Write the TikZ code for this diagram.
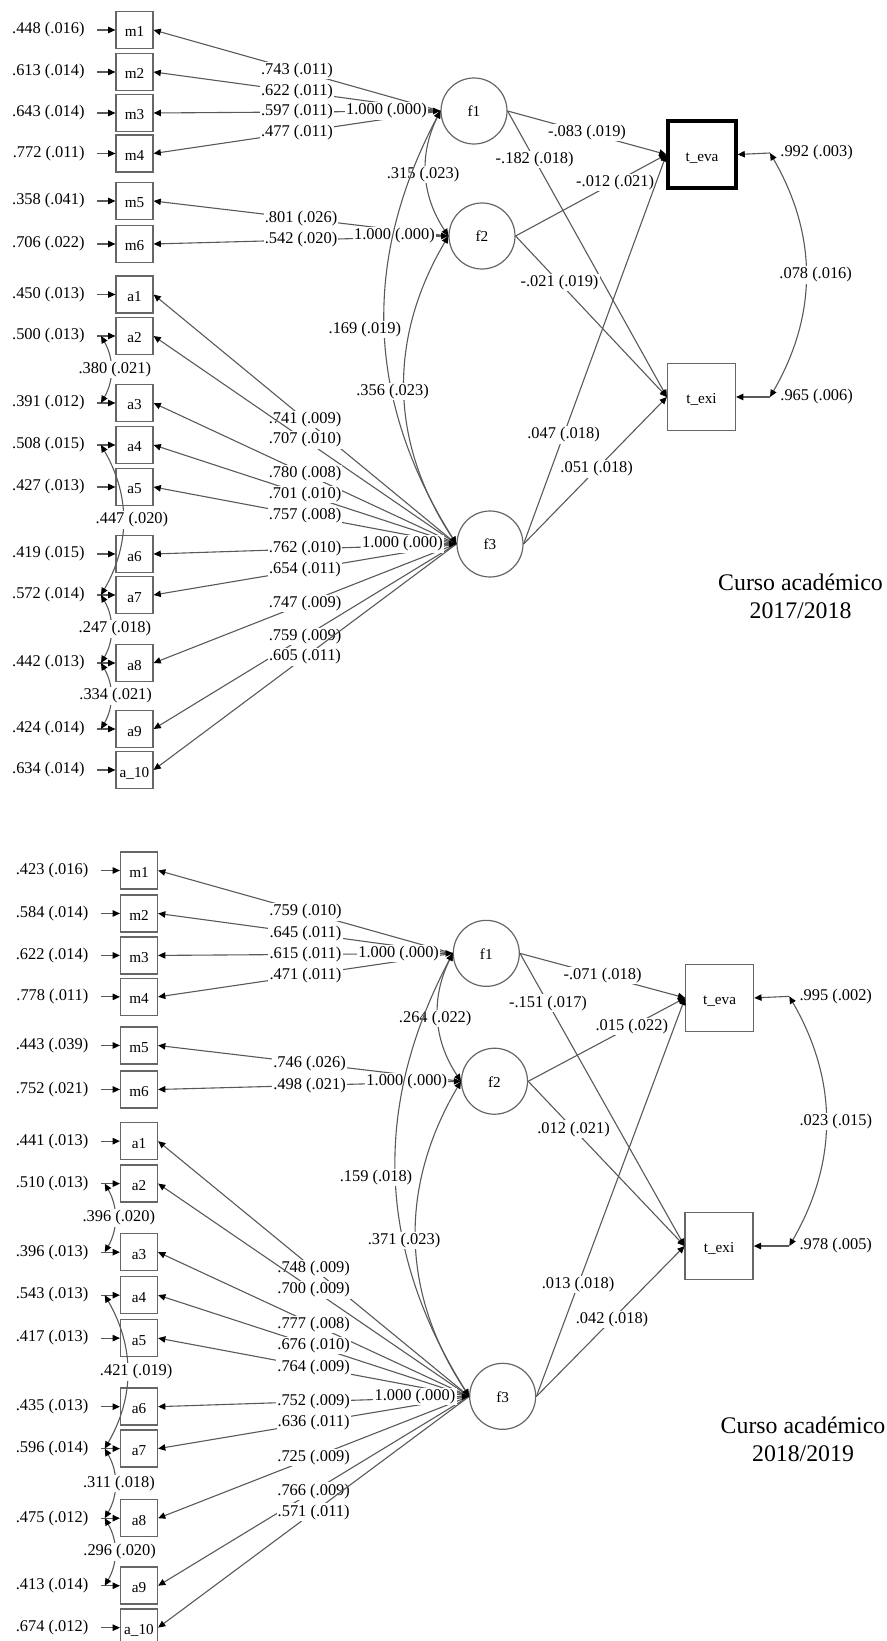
\documentclass[tikz,border=0pt]{standalone}
\usepackage{fontspec}
\setmainfont{Liberation Serif}
\usetikzlibrary{arrows.meta}
\newcommand\fslab{\fontsize{8.2}{9.5}\selectfont}
\newcommand\fsobs{\fontsize{7.6}{8.5}\selectfont}
\newcommand\fstitle{\fontsize{11.9}{14}\selectfont}
\tikzset{
  obs/.style={draw=black!60, line width=0.6pt, minimum size=18.5pt, inner sep=0pt, font=\fsobs, text height=7pt, text depth=0pt},
  lat/.style={circle, draw=black!60, line width=0.6pt, minimum size=33pt, inner sep=0pt, font=\fsobs, text height=6pt, text depth=0pt},
  tbox/.style={draw=black!60, line width=0.6pt, minimum width=34pt, minimum height=33.5pt, inner sep=0pt, font=\fsobs, text height=7pt, text depth=0pt},
  tevaextra/.style={},
  lab/.style={font=\fslab, fill=white, inner sep=0.6pt},
  errlab/.style={font=\fslab, anchor=east, inner xsep=6pt, inner ysep=0.6pt},
  varlab/.style={font=\fslab, anchor=west, inner xsep=5pt, inner ysep=0.6pt},
  semtip/.tip={Triangle[length=3.6pt,width=3.2pt,color=black]},
  arr/.style={draw=black!65, line width=0.55pt, -semtip},
  arr2/.style={draw=black!65, line width=0.55pt, semtip-semtip},
  titlelab/.style={font=\fstitle, align=center, inner sep=0pt}
}
% #1 indicators, #2 residual covariances, #3-#5 factor correlations,
% #6 structural paths, #7-#8 outcome variances, #9 outcome covariance
\newcommand\semdiagram[9]{%
  \node[lat] (f1) at (474,111) {f1};
  \node[lat] (f2) at (482,236) {f2};
  \node[lat] (f3) at (490,544) {f3};
  \node[tbox, tevaextra] (teva) at (702,154.5) {t\_eva};
  \node[tbox] (texi) at (701.5,397) {t\_exi};
  \foreach \vn/\vt/\vy/\ve/\vl/\vf in {#1}{
    \node[obs] (\vn) at (134.5,\vy) {\vt};
    \node[errlab] (e\vn) at (97,\vy) {\ve};
    \draw[arr] (e\vn.east) -- (\vn.west);
    \draw[arr] (\vf.west) -- node[lab,pos=.5] {\vl} (\vn.east);
  }
  \foreach \va/\vb/\vl/\vd in {#2}{
    \draw[arr2] ([xshift=2pt]e\va.east) to[bend left=30]
      node[lab,midway,xshift=\vd] {\vl} ([xshift=2pt]e\vb.east);
  }
  \foreach \vf in {f1,f2,f3}{
    \node[lab, anchor=east] (v\vf) at ([xshift=-6pt]\vf.west) {1.000 (.000)};
    \draw[arr] (v\vf.east) -- (\vf.west);
  }
  \draw[arr2] (f1.west) to[bend right=30] node[lab,midway,xshift=-1.5pt] {#3} (f2.west);
  \draw[arr2] (f1.west) to[bend right=30] node[lab,midway,xshift=-10pt] {#4} (f3.west);
  \draw[arr2] (f2.west) to[bend right=32] node[lab,midway,xshift=-6pt] {#5} (f3.west);
  \foreach \va/\vb/\vp/\vl in {#6}{
    \draw[arr] (\va.east) -- node[lab,pos=\vp] {\vl} (\vb.west);
  }
  \node[varlab] (vteva) at (770,153) {#7};
  \node[varlab] (vtexi) at (770,397) {#8};
  \draw[arr] (vteva.west) -- (teva.east);
  \draw[arr] (vtexi.west) -- (texi.east);
  \draw[arr2] (vteva.west) to[bend left=30] node[lab,midway,xshift=5pt] {#9} (vtexi.west);
}
\begin{document}
\begin{tikzpicture}[x=0.5pt, y=-0.5pt]
\useasboundingbox (0,0) rectangle (887,1641);
\begin{scope}[name prefix=top-, tevaextra/.style={draw=black, line width=1.6pt}]
\semdiagram{
  m1/m1/30/.448 (.016)/.743 (.011)/f1,
  m2/m2/72/.613 (.014)/.622 (.011)/f1,
  m3/m3/113/.643 (.014)/.597 (.011)/f1,
  m4/m4/153.5/.772 (.011)/.477 (.011)/f1,
  m5/m5/201/.358 (.041)/.801 (.026)/f2,
  m6/m6/244/.706 (.022)/.542 (.020)/f2,
  a1/a1/294.5/.450 (.013)/.741 (.009)/f3,
  a2/a2/336/.500 (.013)/.707 (.010)/f3,
  a3/a3/403/.391 (.012)/.780 (.008)/f3,
  a4/a4/445/.508 (.015)/.701 (.010)/f3,
  a5/a5/487/.427 (.013)/.757 (.008)/f3,
  a6/a6/554/.419 (.015)/.762 (.010)/f3,
  a7/a7/595/.572 (.014)/.654 (.011)/f3,
  a8/a8/663/.442 (.013)/.747 (.009)/f3,
  a9/a9/729/.424 (.014)/.759 (.009)/f3,
  a10/a\_10/770/.634 (.014)/.605 (.011)/f3}
{a2/a3/.380 (.021)/2pt, a4/a7/.447 (.020)/4.5pt, a7/a8/.247 (.018)/2pt, a8/a9/.334 (.021)/2.5pt}
{.315 (.023)}{.169 (.019)}{.356 (.023)}
{f1/teva/.5/-.083 (.019), f1/texi/.17/-.182 (.018), f2/teva/.66/-.012 (.021),
 f2/texi/.29/-.021 (.019), f3/teva/.28/.047 (.018), f3/texi/.51/.051 (.018)}
{.992 (.003)}{.965 (.006)}{.078 (.016)}
\end{scope}
\node[titlelab] (title1) at (800.5,596) {Curso académico\\2017/2018};
\begin{scope}[name prefix=bot-, shift={(1.4,839.8)}, scale=1.023]
\semdiagram{
  m1/m1/30/.423 (.016)/.759 (.010)/f1,
  m2/m2/72/.584 (.014)/.645 (.011)/f1,
  m3/m3/113/.622 (.014)/.615 (.011)/f1,
  m4/m4/153.5/.778 (.011)/.471 (.011)/f1,
  m5/m5/201/.443 (.039)/.746 (.026)/f2,
  m6/m6/244/.752 (.021)/.498 (.021)/f2,
  a1/a1/294.5/.441 (.013)/.748 (.009)/f3,
  a2/a2/336/.510 (.013)/.700 (.009)/f3,
  a3/a3/403/.396 (.013)/.777 (.008)/f3,
  a4/a4/445/.543 (.013)/.676 (.010)/f3,
  a5/a5/487/.417 (.013)/.764 (.009)/f3,
  a6/a6/554/.435 (.013)/.752 (.009)/f3,
  a7/a7/595/.596 (.014)/.636 (.011)/f3,
  a8/a8/663/.475 (.012)/.725 (.009)/f3,
  a9/a9/729/.413 (.014)/.766 (.009)/f3,
  a10/a\_10/770/.674 (.012)/.571 (.011)/f3}
{a2/a3/.396 (.020)/2pt, a4/a7/.421 (.019)/4.5pt, a7/a8/.311 (.018)/2pt, a8/a9/.296 (.020)/2.5pt}
{.264 (.022)}{.159 (.018)}{.371 (.023)}
{f1/teva/.5/-.071 (.018), f1/texi/.17/-.151 (.017), f2/teva/.66/.015 (.022),
 f2/texi/.29/.012 (.021), f3/teva/.28/.013 (.018), f3/texi/.51/.042 (.018)}
{.995 (.002)}{.978 (.005)}{.023 (.015)}
\end{scope}
\node[titlelab] (title2) at (803,1439) {Curso académico\\2018/2019};
\end{tikzpicture}
\end{document}
